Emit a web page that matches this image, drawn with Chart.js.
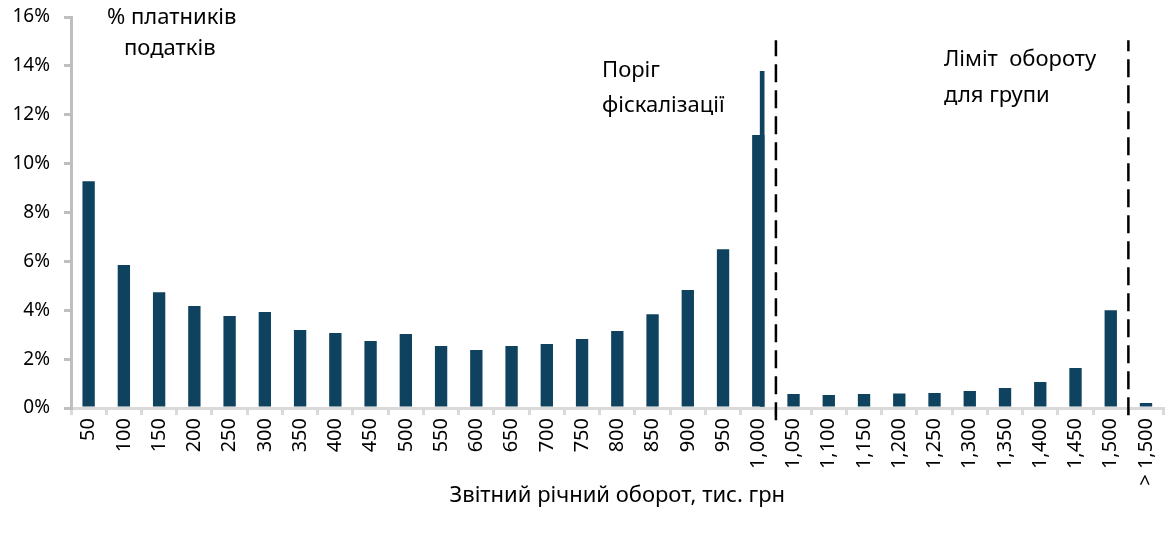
<!DOCTYPE html>
<html>
<head>
<meta charset="utf-8">
<script src="https://cdn.jsdelivr.net/npm/chart.js@4"></script>
<style>
  html, body { margin: 0; padding: 0; background: #fff; }
  #wrap { width: 1173px; height: 537px; }
</style>
</head>
<body>
<div id="wrap"><canvas id="myChart" width="1173" height="537"></canvas></div>
<script>
// categories (turnover, thousand UAH)
var categories = ['50', '100', '150', '200', '250', '300', '350', '400', '450', '500',
    '550', '600', '650', '700', '750', '800', '850', '900', '950', '1,000',
    '1,050', '1,100', '1,150', '1,200', '1,250', '1,300', '1,350', '1,400', '1,450', '1,500', '> 1,500'];

// % of taxpayers
var shares = [9.28, 5.85, 4.74, 4.17, 3.76, 3.93, 3.19, 3.07, 2.74, 3.03,
    2.54, 2.37, 2.54, 2.62, 2.82, 3.15, 3.84, 4.83, 6.50, 11.17,
    0.57, 0.53, 0.57, 0.59, 0.61, 0.70, 0.82, 1.06, 1.64, 4.00, 0.20];

// thin extra bar at the fiscalisation threshold
var extraCategory = '1,000';
var extraShare = 13.78;

var yTicks = [0, 2, 4, 6, 8, 10, 12, 14, 16];

var BAR = '#0f425f';
var FONT = 'Noto Sans';

function drawChart()
{
    var ctx = document.getElementById('myChart').getContext('2d');

    var i1000 = categories.indexOf('1,000');
    var i1500 = categories.indexOf('1,500');

    var notes = {
        id: 'notes',
        afterDraw: function(chart) {
            var c = chart.ctx;
            c.save();
            c.fillStyle = '#000';
            c.font = '22px "' + FONT + '"';
            c.textBaseline = 'middle';
            c.textAlign = 'left';
            c.fillText('% платників', 107, 18);
            c.fillText('податків', 124, 49);
            c.fillText('Поріг', 602, 71);
            c.fillText('фіскалізації', 602, 106);
            c.fillText('Ліміт  обороту', 944, 60);
            c.fillText('для групи', 944, 96);
            c.restore();
        }
    };

    var dashed = {
        type: 'line',
        xAxisID: 'x2',
        borderColor: '#000',
        borderWidth: 2.5,
        borderDash: [18, 8],
        pointRadius: 0,
        clip: false,
        order: 0
    };

    var chart = new Chart(ctx, {
        type: 'bar',
        data: {
            labels: categories,
            datasets: [{
                label: 'extra',
                xAxisID: 'x2',
                grouped: false,
                data: [{x: categories.indexOf(extraCategory) + 0.11, y: extraShare}],
                backgroundColor: BAR,
                barThickness: 4,
                order: 2
            }, {
                label: 'Частка',
                xAxisID: 'x',
                grouped: false,
                data: shares,
                backgroundColor: BAR,
                categoryPercentage: 1,
                barPercentage: 0.35,
                order: 1
            }, Object.assign({}, dashed, {
                label: 'fiscal',
                data: [{x: i1000 + 0.5, y: -0.5}, {x: i1000 + 0.5, y: 15.05}]
            }), Object.assign({}, dashed, {
                label: 'limit',
                data: [{x: i1500 + 0.5, y: -0.3}, {x: i1500 + 0.5, y: 15.05}]
            })]
        },
        options: {
            responsive: false,
            animation: false,
            layout: { padding: { top: 17, right: 0, left: 0, bottom: 28 } },
            plugins: {
                legend: { display: false },
                tooltip: { enabled: false }
            },
            scales: {
                x: {
                    type: 'category',
                    offset: true,
                    afterFit: function(s) { s.height = 101; },
                    border: { color: '#d9d9d9', width: 3 },
                    grid: {
                        offset: true,
                        drawOnChartArea: false,
                        drawTicks: true,
                        tickLength: 7,
                        color: '#d9d9d9',
                        lineWidth: 3
                    },
                    ticks: {
                        color: '#000',
                        font: { family: FONT, size: 20 },
                        minRotation: 90,
                        maxRotation: 90,
                        autoSkip: false,
                        padding: 3
                    },
                    title: {
                        display: true,
                        text: 'Звітний річний оборот, тис. грн',
                        color: '#000',
                        font: { family: FONT, size: 22 },
                        padding: { top: 0, bottom: 0 }
                    }
                },
                x2: {
                    type: 'linear',
                    display: false,
                    offset: false,
                    min: -0.5,
                    max: categories.length - 0.5
                },
                y: {
                    min: 0,
                    max: 16,
                    afterBuildTicks: function(s) {
                        s.ticks = yTicks.map(function(v) { return {value: v}; });
                    },
                    afterFit: function(s) {
                        s.width = 71;
                        s.paddingTop = 0;
                        s.paddingBottom = 0;
                    },
                    border: { color: '#bfbfbf', width: 3 },
                    grid: {
                        drawOnChartArea: false,
                        drawTicks: true,
                        tickLength: 7,
                        color: '#bfbfbf',
                        lineWidth: 3
                    },
                    ticks: {
                        color: '#000',
                        font: { family: FONT, size: 19 },
                        padding: 14,
                        callback: function(v) { return v + '%'; }
                    }
                }
            }
        },
        plugins: [notes]
    });
}
drawChart();
</script>
</body>
</html>
